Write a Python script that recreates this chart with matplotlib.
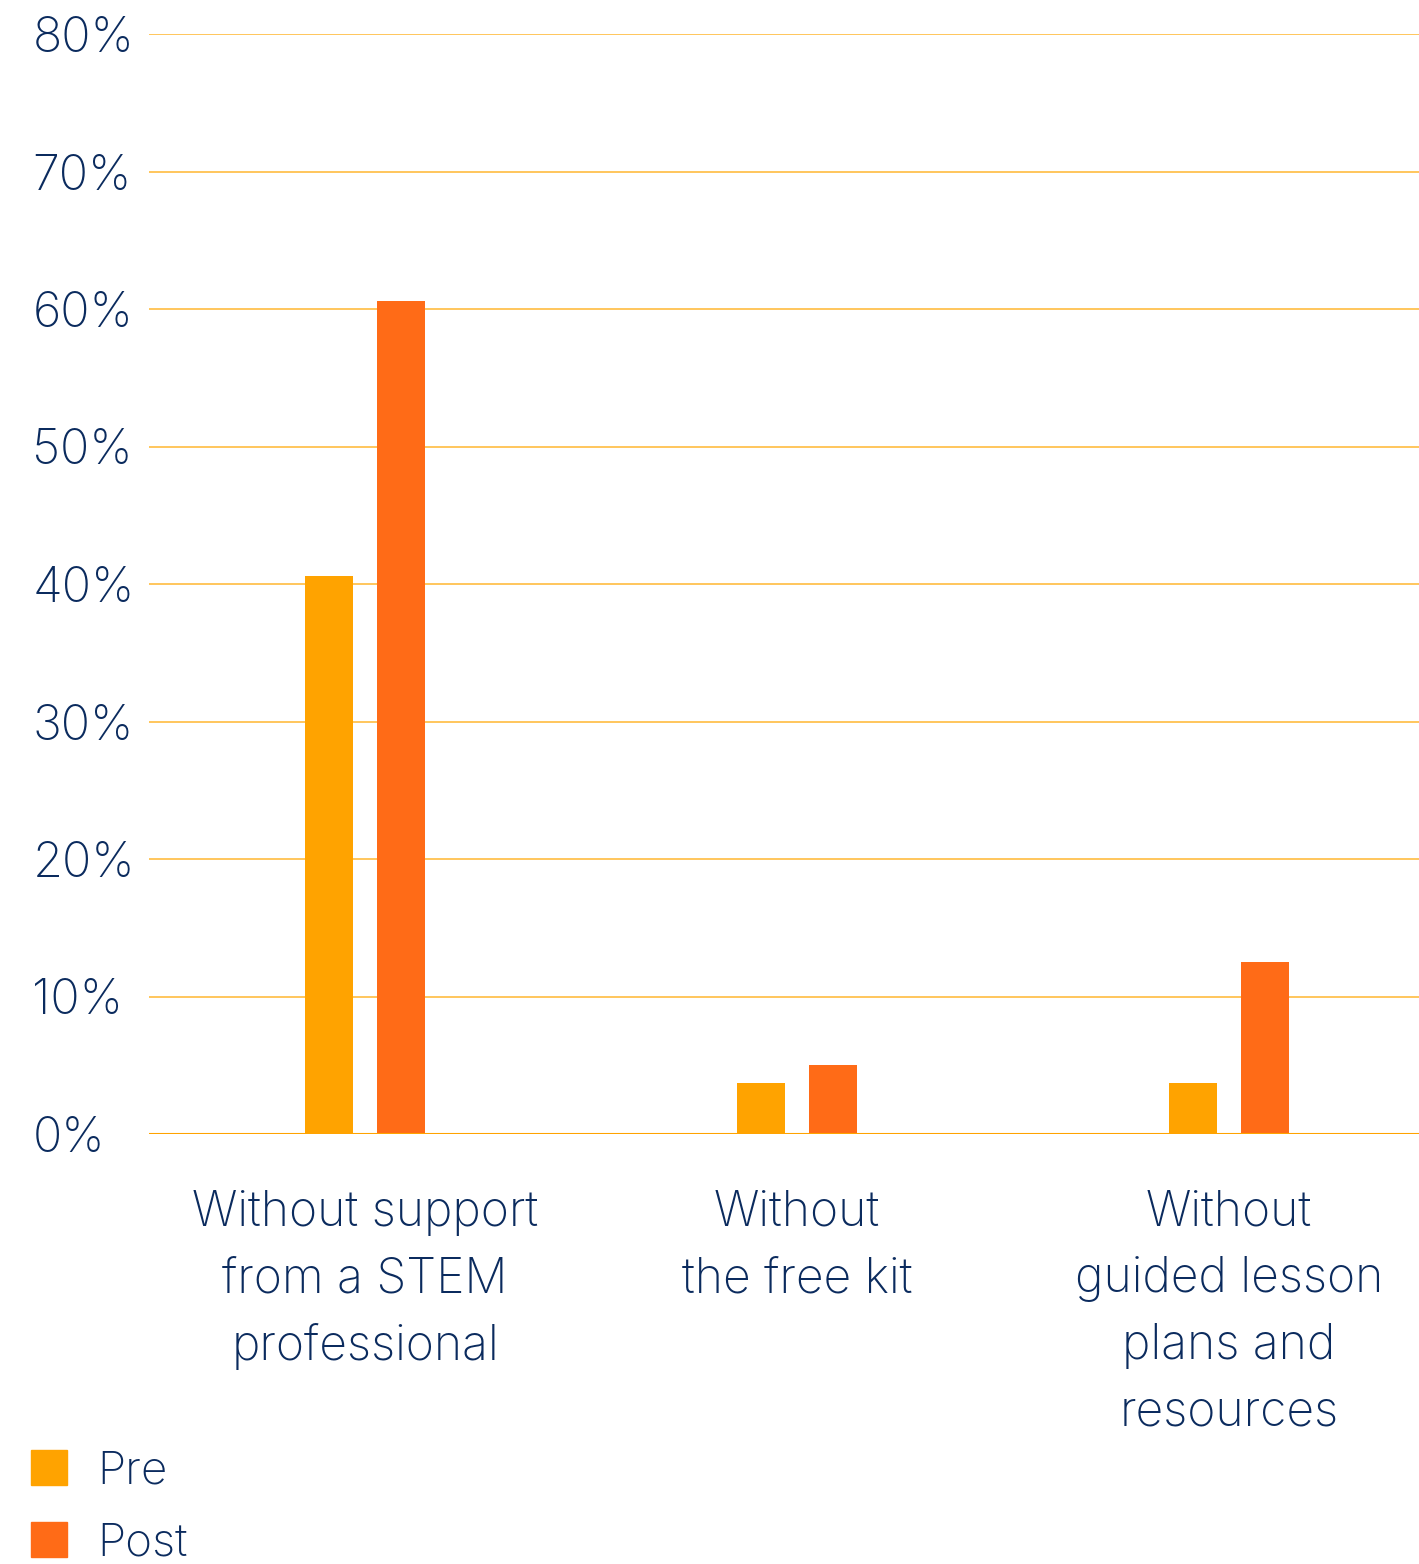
import matplotlib
matplotlib.use("Agg")
import matplotlib.pyplot as plt
from matplotlib.patches import Patch
import numpy as np

# Survey data: share of teachers confident delivering STEM activities
categories = [
    "Without support\nfrom a STEM\nprofessional",
    "Without\nthe free kit",
    "Without\nguided lesson\nplans and\nresources",
]
pre_values = [40.6, 3.7, 3.7]
post_values = [60.6, 5.0, 12.5]
series_names = ["Pre", "Post"]
y_ticks = [0, 10, 20, 30, 40, 50, 60, 70, 80]
y_tick_labels = [f"{t}%" for t in y_ticks]

PRE_COLOR = "#FFA300"
POST_COLOR = "#FF6B17"
GRID_COLOR = "#FFC24F"
TEXT_COLOR = "#0B2B5E"

plt.rcParams["font.family"] = ["Inter", "DejaVu Sans"]
plt.rcParams["font.weight"] = "light"

W, H, DPI = 1419, 1564, 100
fig = plt.figure(figsize=(W / DPI, H / DPI), dpi=DPI)
ax = fig.add_axes([149 / W, (H - 1134) / H, (W - 149) / W, 1100 / H])

x = np.arange(len(categories))
bar_w = 0.111
offset = 0.083
ax.bar(x - offset, pre_values, width=bar_w, color=PRE_COLOR, zorder=3)
ax.bar(x + offset, post_values, width=bar_w, color=POST_COLOR, zorder=3)

ax.set_xlim(-0.5, -0.5 + (W - 149) / 432)
ax.set_ylim(0, 80)

# Horizontal gridlines
for t in y_ticks[1:]:
    ax.axhline(t, color=GRID_COLOR, lw=1.3, zorder=1)
ax.axhline(0, color=PRE_COLOR, lw=1.5, zorder=4)

for s in ax.spines.values():
    s.set_visible(False)

ax.set_yticks(y_ticks, y_tick_labels)
ax.tick_params(axis="y", length=0, pad=84, labelsize=35, labelcolor=TEXT_COLOR)
for lab in ax.get_yticklabels():
    lab.set_horizontalalignment("left")

ax.set_xticks(x, categories)
ax.tick_params(axis="x", length=0, pad=40, labelsize=34.5, labelcolor=TEXT_COLOR)
for lab in ax.get_xticklabels():
    lab.set_linespacing(1.57)
    lab.set_horizontalalignment("center")

handles = [Patch(color=PRE_COLOR), Patch(color=POST_COLOR)]
fig.legend(
    handles, series_names,
    loc="upper left", bbox_to_anchor=(31 / W, 1 - 1450 / H),
    frameon=False, fontsize=33, labelcolor=TEXT_COLOR,
    handlelength=0.79, handleheight=0.79, handletextpad=0.66,
    labelspacing=0.65, borderaxespad=0, borderpad=0,
)

fig.savefig("out.png", dpi=DPI, facecolor="white")
